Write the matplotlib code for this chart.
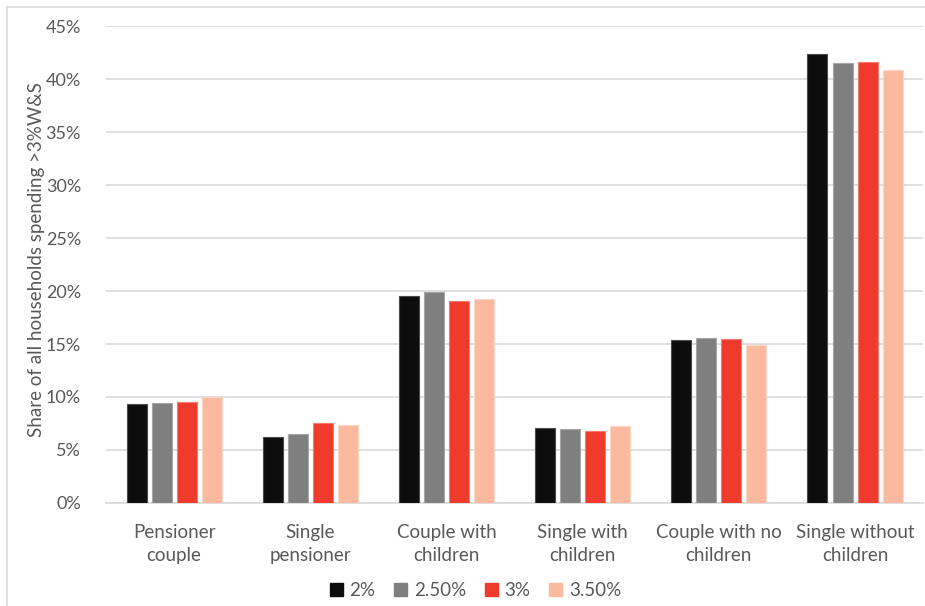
import numpy as np
import matplotlib.pyplot as plt
from matplotlib.lines import Line2D

plt.rcParams['font.family'] = ['Lato', 'DejaVu Sans']

# household types and the share (%) spending above the threshold, per rate
categories = ["Pensioner\ncouple", "Single\npensioner", "Couple with\nchildren",
              "Single with\nchildren", "Couple with no\nchildren", "Single without\nchildren"]
series_names = ["2%", "2.50%", "3%", "3.50%"]
share_2 = [9.35, 6.2, 19.5, 7.1, 15.4, 42.4]
share_25 = [9.4, 6.5, 19.9, 7.0, 15.55, 41.5]
share_3 = [9.5, 7.5, 19.05, 6.75, 15.5, 41.6]
share_35 = [10.0, 7.4, 19.25, 7.3, 14.95, 40.85]

colors = ["#0d0d0d", "#7f7f7f", "#ee3b2c", "#fbb9a0"]
edges = ["#4a4a4a", "#a6a6a6", "#f47b70", "#fdd5c5"]
text_col = "#595959"
grid_col = "#d9d9d9"

fig = plt.figure(figsize=(9.25, 6.06), dpi=100)
ax = fig.add_axes([0.1146, 0.17, 0.8834, 0.787])

x = np.arange(len(categories))
width = 0.147
pitch = 0.184
all_series = [share_2, share_25, share_3, share_35]
for i, vals in enumerate(all_series):
    offs = (i - 1.5) * pitch
    ax.bar(x + offs, vals, width, color=colors[i], edgecolor=edges[i],
           linewidth=0.8, label=series_names[i], zorder=3)

ax.set_xlim(-0.5, len(categories) - 0.5)
ax.set_ylim(0, 45)
ax.set_yticks(np.arange(0, 46, 5))
ax.set_yticklabels([f"{v}%" for v in range(0, 46, 5)])
ax.set_xticks(x)
ax.set_xticklabels(categories, linespacing=1.45)
ax.tick_params(axis='y', length=0, pad=18, labelsize=13, labelcolor=text_col)
ax.tick_params(axis='x', length=0, pad=15, labelsize=13.5, labelcolor=text_col)
ax.grid(axis='y', color=grid_col, linewidth=1.2, zorder=0)
for s in ["top", "right", "left"]:
    ax.spines[s].set_visible(False)
ax.spines["bottom"].set_color(grid_col)
ax.spines["bottom"].set_linewidth(1.2)

fig.text(0.040, 0.571, "Share of all households spending >3%W&S", rotation=90,
         ha='center', va='center', fontsize=13.5, color=text_col)

handles = [plt.Rectangle((0, 0), 1, 1, color=c) for c in colors]
fig.legend(handles, series_names, loc='center', bbox_to_anchor=(0.514, 0.026),
           ncol=4, frameon=False, fontsize=13.5, labelcolor=text_col,
           handlelength=0.7, handleheight=0.7, handletextpad=0.35,
           columnspacing=1.0)

# outer chart frame
fig.add_artist(Line2D([0.0076, 0.0076], [0, 0.9885], color=grid_col, lw=1.2,
                      transform=fig.transFigure))
fig.add_artist(Line2D([0.0076, 1.0], [0.9885, 0.9885], color=grid_col, lw=1.2,
                      transform=fig.transFigure))

fig.savefig("out.png", dpi=100)
